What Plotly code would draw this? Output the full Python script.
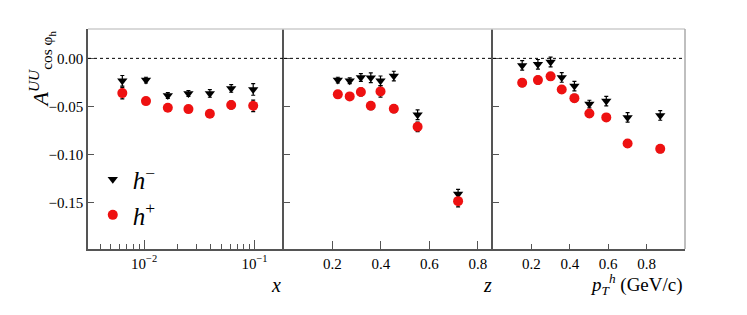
import plotly.graph_objects as go

# ---- data ----
x_bins = [0.00635, 0.0104, 0.0164, 0.0252, 0.0394, 0.0615, 0.0973]
x_hm = [-0.0233, -0.0226, -0.0385, -0.0364, -0.0364, -0.0312, -0.0323]
x_hm_err = [0.0055, 0.003, 0.003, 0.003, 0.004, 0.004, 0.006]
x_hp = [-0.0361, -0.0444, -0.0513, -0.0527, -0.0576, -0.0485, -0.0493]
x_hp_err = [0.006, 0.002, 0.002, 0.002, 0.003, 0.004, 0.006]

z_bins = [0.222, 0.271, 0.317, 0.358, 0.398, 0.453, 0.551, 0.718]
z_hm = [-0.0226, -0.0233, -0.0198, -0.0201, -0.0233, -0.0184, -0.0586, -0.141]
z_hm_err = [0.003, 0.003, 0.004, 0.005, 0.005, 0.005, 0.005, 0.005]
z_hp = [-0.0374, -0.0395, -0.0350, -0.0493, -0.0343, -0.0524, -0.0711, -0.1483]
z_hp_err = [0.002, 0.002, 0.004, 0.004, 0.006, 0.004, 0.005, 0.006]

pt_bins = [0.152, 0.234, 0.300, 0.358, 0.424, 0.502, 0.590, 0.701, 0.871]
pt_hm = [-0.0073, -0.0062, -0.0038, -0.0198, -0.0288, -0.0475, -0.0444, -0.0613, -0.0593]
pt_hm_err = [0.005, 0.005, 0.005, 0.005, 0.005, 0.004, 0.005, 0.005, 0.005]
pt_hp = [-0.0253, -0.0226, -0.0187, -0.0323, -0.0413, -0.0572, -0.0613, -0.0884, -0.0940]
pt_hp_err = [0.004, 0.004, 0.004, 0.004, 0.004, 0.004, 0.004, 0.004, 0.004]

y_ticks = [0.0, -0.05, -0.10, -0.15]
y_ticktext = ["0.00", "\u22120.05", "\u22120.10", "\u22120.15"]

SERIF = "Liberation Serif, Times New Roman, serif"
fig = go.Figure()

panels = [
    (x_bins, x_hm, x_hm_err, x_hp, x_hp_err, "x", "y"),
    (z_bins, z_hm, z_hm_err, z_hp, z_hp_err, "x2", "y2"),
    (pt_bins, pt_hm, pt_hm_err, pt_hp, pt_hp_err, "x3", "y3"),
]
for i, (xb, hm, hme, hp, hpe, xa, ya) in enumerate(panels):
    fig.add_trace(go.Scatter(
        x=xb, y=hm, mode="markers", xaxis=xa, yaxis=ya,
        name="<i>h</i><sup>\u2212</sup>", showlegend=(i == 0), legendrank=1,
        marker=dict(symbol="triangle-down", size=9, color="black"),
        error_y=dict(type="data", array=hme, color="black", thickness=1.2, width=2),
    ))
    fig.add_trace(go.Scatter(
        x=xb, y=hp, mode="markers", xaxis=xa, yaxis=ya,
        name="<i>h</i><sup>+</sup>", showlegend=(i == 0), legendrank=2,
        marker=dict(symbol="circle", size=10, color="#ee1111"),
        error_y=dict(type="data", array=hpe, color="black", thickness=1.2, width=2),
    ))

W = 597.0
d1 = (284 - 88) / W
d2 = (493 - 88) / W

axis_common = dict(
    showline=True, linecolor="#555555", linewidth=1.5, mirror=False,
    ticks="inside", tickcolor="#555555", showgrid=False, zeroline=False,
    tickfont=dict(family=SERIF, size=15, color="black"),
)
yrange = [-0.198, 0.0305]

fig.update_layout(
    width=747, height=315,
    margin=dict(l=88, r=62, t=29, b=66, autoexpand=False),
    plot_bgcolor="white", paper_bgcolor="white",
    font=dict(family=SERIF, color="black"),
    showlegend=True,
    legend=dict(x=0.008, y=0.42, xanchor="left", yanchor="top",
                font=dict(family=SERIF, size=25, color="black"),
                bgcolor="rgba(0,0,0,0)", itemwidth=30, tracegroupgap=0),
    xaxis=dict(type="log", domain=[0, d1], range=[-2.508, -0.733],
               tickvals=[0.01, 0.1], ticktext=["10<sup>\u22122</sup>", "10<sup>\u22121</sup>"],
               ticklen=9,
               minor=dict(tickvals=[0.004, 0.005, 0.006, 0.007, 0.008, 0.009,
                                    0.02, 0.03, 0.04, 0.05, 0.06, 0.07, 0.08, 0.09],
                          ticks="inside", ticklen=5, tickcolor="#555555"),
               **axis_common),
    xaxis2=dict(domain=[d1, d2], range=[0, 0.862], tickvals=[0.2, 0.4, 0.6, 0.8],
                ticktext=["0.2", "0.4", "0.6", "0.8"], ticklen=8, **axis_common),
    xaxis3=dict(domain=[d2, 1], range=[0, 1.0], tickvals=[0.2, 0.4, 0.6, 0.8],
                ticktext=["0.2", "0.4", "0.6", "0.8"], ticklen=5, **axis_common),
    yaxis=dict(anchor="x", range=yrange, tickvals=y_ticks, ticktext=y_ticktext,
               ticklen=6, **axis_common),
    yaxis2=dict(anchor="x2", range=yrange, tickvals=y_ticks, ticklen=6,
                showticklabels=False, **axis_common),
    yaxis3=dict(anchor="x3", range=yrange, tickvals=y_ticks, ticklen=6,
                showticklabels=False, **axis_common),
)

# zero lines and frames
for xr in ["x", "x2", "x3"]:
    fig.add_shape(type="line", xref=f"{xr} domain", yref="y", x0=0, x1=1, y0=0, y1=0,
                  line=dict(color="black", width=1, dash="dot"))
fig.add_shape(type="line", xref="paper", yref="paper", x0=0, x1=1, y0=1, y1=1,
              line=dict(color="#cccccc", width=1.5))
fig.add_shape(type="line", xref="paper", yref="paper", x0=1, x1=1, y0=0, y1=1,
              line=dict(color="#aaaaaa", width=1.5))

# axis titles
fig.add_annotation(xref="paper", yref="paper", x=(276 - 88) / W, y=-0.105,
                   text="<i>x</i>", showarrow=False, xanchor="center", yanchor="top",
                   font=dict(family=SERIF, size=20, color="black"))
fig.add_annotation(xref="paper", yref="paper", x=(487 - 88) / W, y=-0.105,
                   text="<i>z</i>", showarrow=False, xanchor="center", yanchor="top",
                   font=dict(family=SERIF, size=20, color="black"))
fig.add_annotation(xref="paper", yref="paper", x=1.0, y=-0.09,
                   text="<i>p</i><sub><i>T</i></sub><sup><i>h</i></sup> (GeV/c)",
                   showarrow=False, xanchor="right", yanchor="top",
                   font=dict(family=SERIF, size=19, color="black"))
fig.add_annotation(xref="paper", yref="paper", x=-47 / W, y=1.0,
                   text="<i>A</i><sup><i>UU</i></sup><sub>cos \u03c6<sub>h</sub></sub>",
                   showarrow=False, textangle=-90, xanchor="center", yanchor="top",
                   font=dict(family=SERIF, size=22, color="black"))

fig.write_html("out.html", config={"displayModeBar": False},
               post_script="document.body.style.margin='0px';")
